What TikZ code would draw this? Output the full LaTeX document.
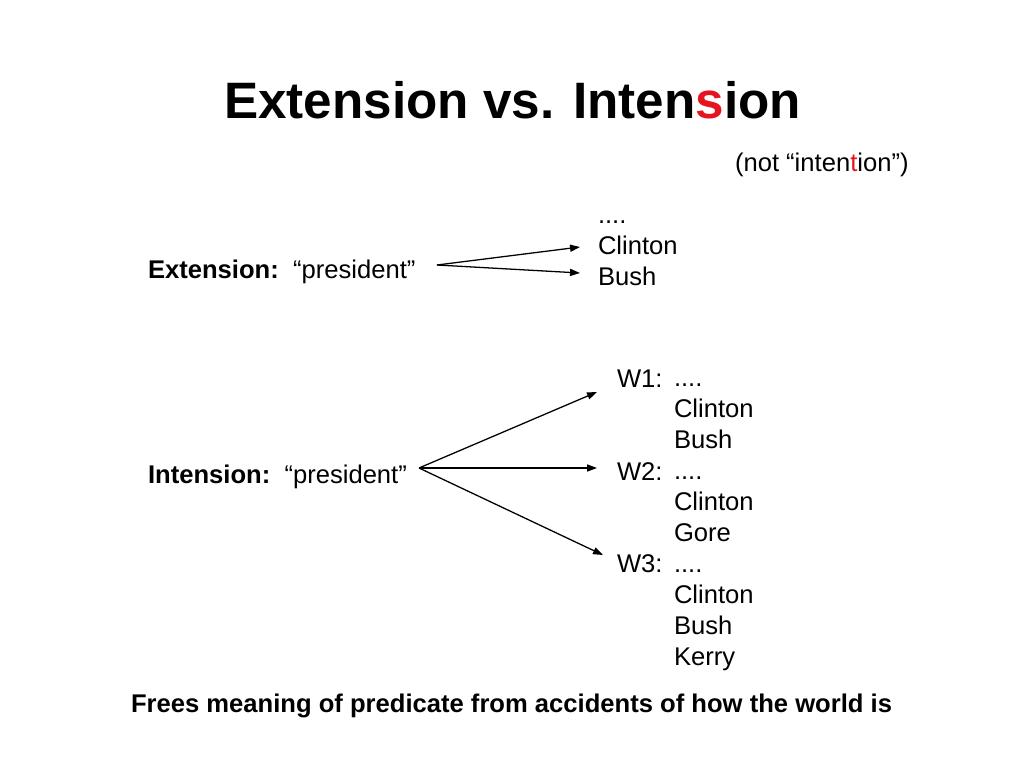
\documentclass[tikz,border=0pt]{standalone}
\usepackage{fontspec}
\setmainfont{Liberation Sans}
\usetikzlibrary{arrows.meta}
\definecolor{hired}{RGB}{230,20,30}
\begin{document}
\begin{tikzpicture}[x=0.703125pt,y=-0.703125pt,
  txt/.style={anchor=base west,inner sep=0pt,outer sep=0pt,font=\fontsize{18}{21.73}\selectfont,align=left},
  arr/.style={line width=0.9pt,-{Stealth[length=7pt,width=5pt,inset=0pt]}}]
\useasboundingbox (0,0) rectangle (1024,768);
\fill[white] (0,0) rectangle (1024,768);
% title
\node[anchor=base,inner sep=0pt,font=\fontsize{36}{43}\selectfont\bfseries] (title) at (512.5,119)
  {Extension vs. Inten\textcolor{hired}{s}ion};
\node[txt] (note) at (735,172) {(not “inten\textcolor{hired}{t}ion”)};
% extension (base anchor = baseline of last line)
\node[txt] (extlab) at (148,279) {\textbf{Extension:}\ \ “president”};
\node[txt] (extlist) at (598,285) {....\\Clinton\\Bush};
\coordinate (eo) at (437,265);
\coordinate (e1) at (580,247);
\coordinate (e2) at (580,273);
\draw[arr] (eo) -- (e1);
\draw[arr] (eo) -- (e2);
% intension
\node[txt] (intlab) at (148,483) {\textbf{Intension:}\ \ “president”};
\node[txt] (w1) at (617,387) {W1:};
\node[txt] (w2) at (617,480) {W2:};
\node[txt] (w3) at (617,572) {W3:};
\node[txt] (wlist) at (674,665) {....\\Clinton\\Bush\\....\\Clinton\\Gore\\....\\Clinton\\Bush\\Kerry};
\coordinate (io) at (419,468);
\coordinate (i1) at (597,392);
\coordinate (i2) at (597,468);
\coordinate (i3) at (603,555);
\draw[arr] (io) -- (i1);
\draw[arr] (io) -- (i2);
\draw[arr] (io) -- (i3);
% footer
\node[txt,font=\fontsize{18}{21.73}\selectfont\bfseries] (foot) at (131,712)
  {Frees meaning of predicate from accidents of how the world is};
\end{tikzpicture}
\end{document}
